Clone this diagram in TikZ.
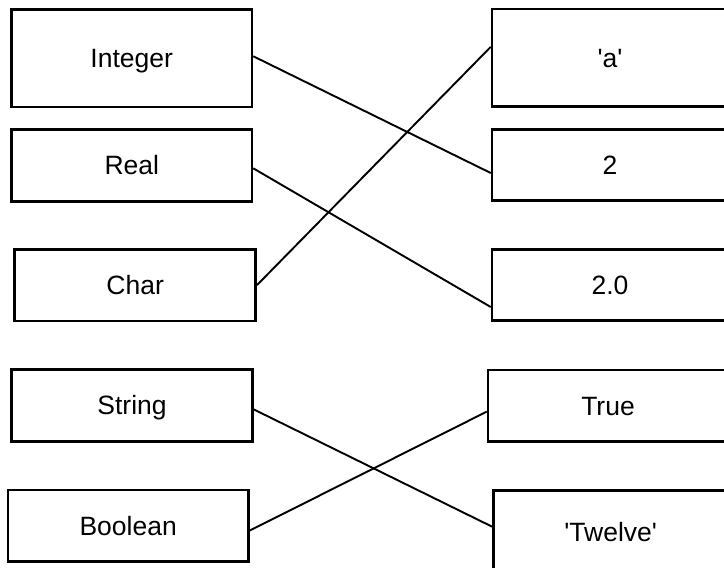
\documentclass[tikz,border=0pt]{standalone}
\usepackage{fontspec}
\setmainfont{Liberation Sans}
\begin{document}
\begin{tikzpicture}[x=1pt,y=-1pt,
  box/.style={draw=black,line width=2.5pt,inner sep=0pt,text height=19pt,text depth=0pt,font=\fontsize{26.5}{30}\selectfont},
  link/.style={draw=black,line width=1.9pt}]
\useasboundingbox (0,0) rectangle (724,568);
\clip (0,0) rectangle (724,568);
% left column
\node[box,minimum width=240.5pt,minimum height=97.5pt] (int) at (131.75,58.25) {Integer};
\node[box,minimum width=240.3pt,minimum height=72pt] (real) at (131.85,165.3) {Real};
\node[box,minimum width=241pt,minimum height=71.7pt] (char) at (135.2,285.15) {Char};
\node[box,minimum width=240.6pt,minimum height=72pt] (str) at (132,405.3) {String};
\node[box,minimum width=240.3pt,minimum height=71.3pt] (bool) at (128.15,525.65) {Boolean};
% right column
\node[box,minimum width=236pt,minimum height=97.7pt] (a) at (610,57.85) {\textquotesingle a\textquotesingle};
\node[box,minimum width=236pt,minimum height=71.4pt] (two) at (610,165) {2};
\node[box,minimum width=236pt,minimum height=71.4pt] (twor) at (610,285) {2.0};
\node[box,minimum width=240pt,minimum height=71.3pt] (true) at (608,405.65) {True};
\node[box,minimum width=234.7pt,minimum height=82.7pt] (twelve) at (610.65,531.65) {\textquotesingle Twelve\textquotesingle};
% connectors
\draw[link] ([yshift=2pt]int.east) -- ([yshift=-8pt]two.west);
\draw[link] ([yshift=-3pt]real.east) -- ([yshift=-22pt]twor.west);
\draw[link] (char.east) -- ([yshift=11pt]a.west);
\draw[link] ([yshift=-4pt]str.east) -- ([yshift=5pt]twelve.west);
\draw[link] ([yshift=-5pt]bool.east) -- ([yshift=-6pt]true.west);
\end{tikzpicture}
\end{document}
